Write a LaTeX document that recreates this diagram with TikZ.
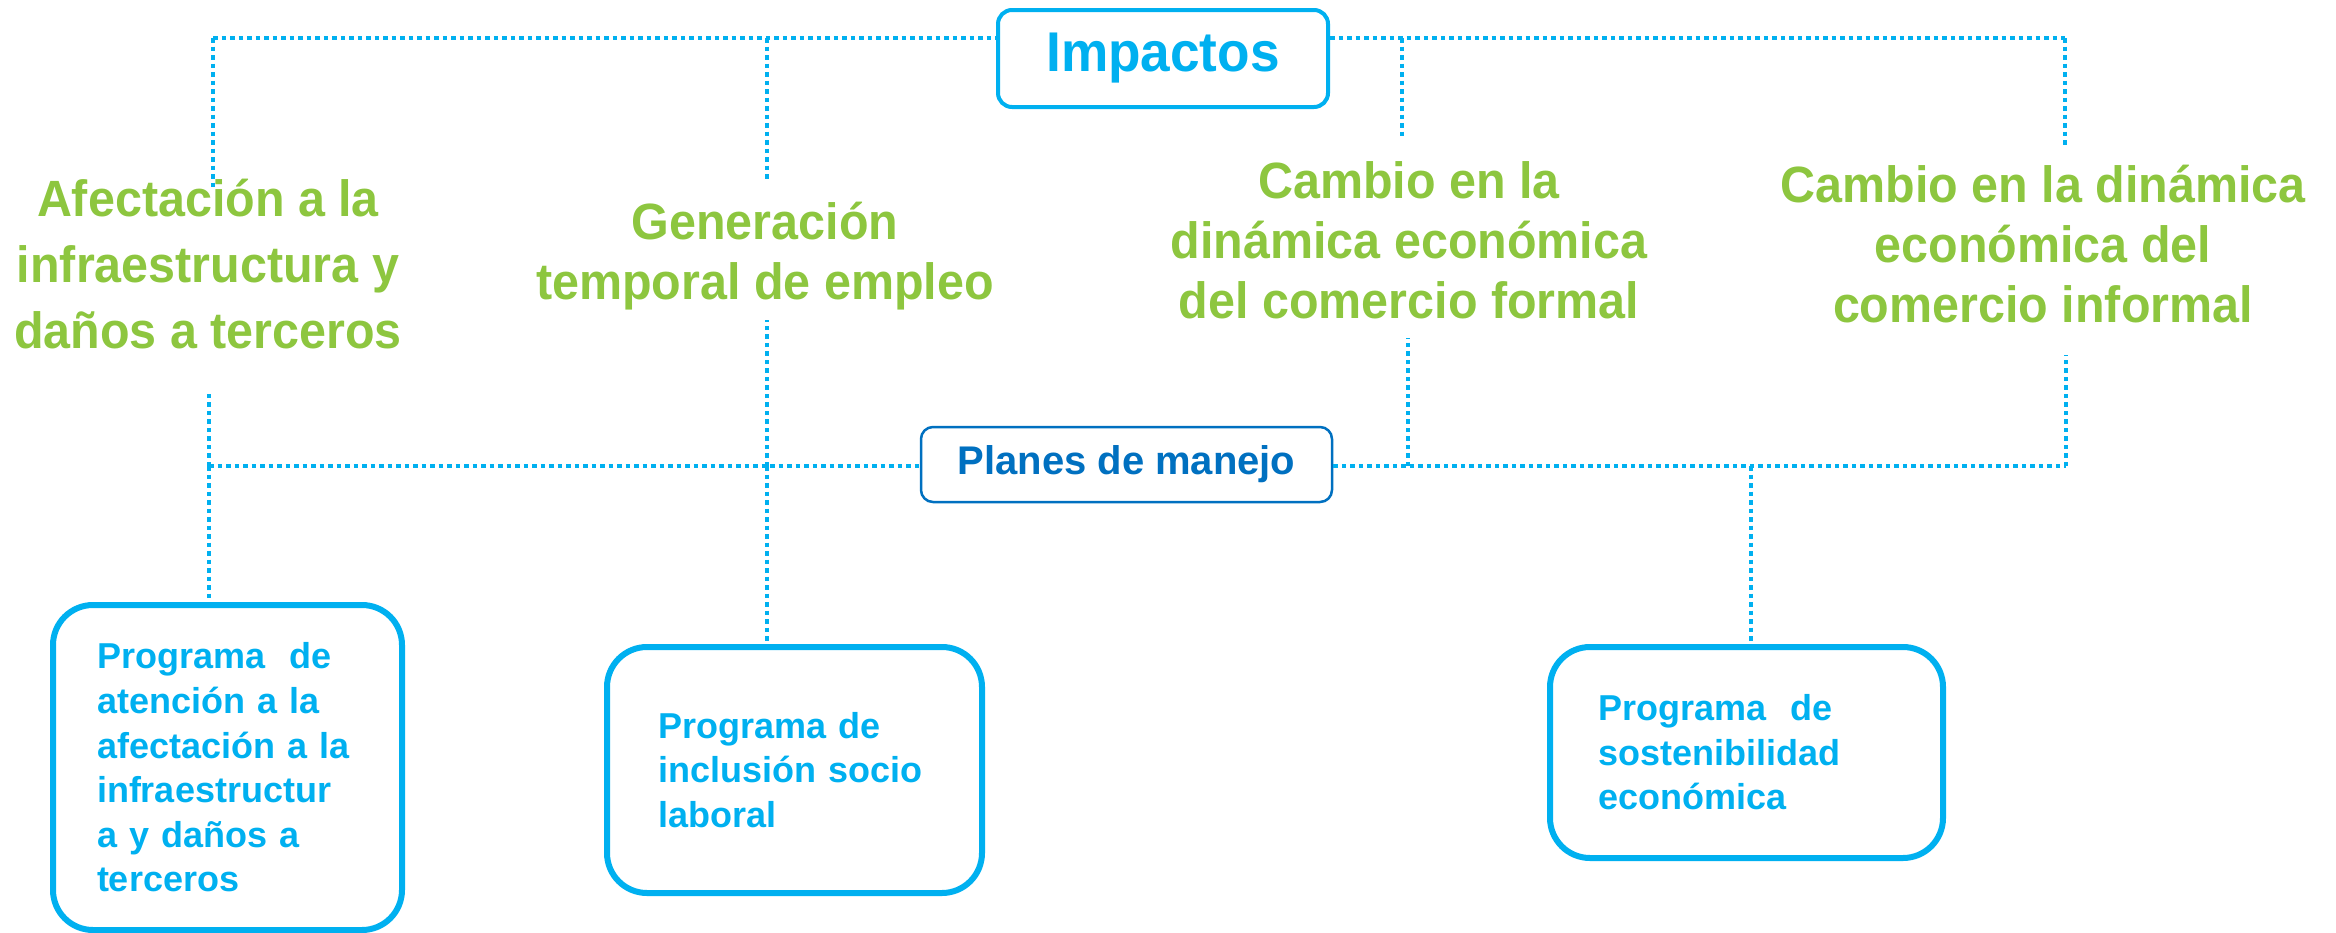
\documentclass[tikz,border=0pt]{standalone}
\usepackage{fontspec}
\setmainfont{Liberation Sans}
\newfontfamily\estrecha[FakeStretch=0.95]{Liberation Sans}
\usepackage{xcolor}
\definecolor{celeste}{HTML}{00B0F0}
\definecolor{azul}{HTML}{0070C0}
\definecolor{verde}{HTML}{8DC63F}
\tikzset{
  punteado/.style={celeste, line width=4.5pt, dash pattern=on 4.5pt off 4pt},
  titulo/.style={draw=celeste, line width=4pt, rounded corners=14pt, text=celeste, fill=white,
    font=\estrecha\bfseries\fontsize{56}{60}\selectfont, minimum width=330pt, minimum height=97pt},
  planes/.style={draw=azul, line width=2.5pt, rounded corners=12pt, text=azul, fill=white,
    font=\bfseries\fontsize{40}{46}\selectfont, minimum width=411pt, minimum height=75pt},
  impacto/.style={text=verde, align=center, inner sep=0pt, font=\estrecha\bfseries\fontsize{51}{60}\selectfont},
  programa/.style={draw=celeste, line width=6pt, rounded corners=40pt, text=celeste, align=left,
    font=\bfseries\fontsize{36}{44.6}\selectfont}
}
\begin{document}
\begin{tikzpicture}[x=1pt, y=-1pt]
\useasboundingbox (0,0) rectangle (2336,932);
% Cajas principales
\node[titulo] (imp) at (1163,58.5) {Impactos};
\node[planes] (pm) at (1126.5,464.5) {Planes de manejo};
% Impactos (texto verde)
\node[impacto, font=\estrecha\bfseries\fontsize{51}{66}\selectfont] (af) at (208,264) {Afectación a la\\infraestructura y\\daños a terceros};
\node[impacto] (ge) at (765,256) {Generación\\temporal de empleo};
\node[impacto] (cf) at (1409,240) {Cambio en la\\dinámica económica\\del comercio formal};
\node[impacto] (ci) at (2043,244) {Cambio en la dinámica\\económica del\\comercio informal};
% Programas
\node[programa, text width=261pt, inner xsep=44pt, minimum height=325pt] (p1) at (227.5,767.5) {Programa~ de\\atención a la\\afectación a la\\infraestructur\\a y daños a\\terceros};
\node[programa, text width=273pt, inner xsep=51pt, minimum height=246pt] (p2) at (794.5,770) {Programa de\\inclusión socio\\laboral};
\node[programa, text width=297pt, inner xsep=48pt, minimum height=211pt] (p3) at (1746.5,752.5) {Programa~ de\\sostenibilidad\\económica};
% Linea superior y ramas
\foreach \n/\x/\yb in {1/213/188, 2/767/182, 3/1402/137, 4/2065/145} {
  \coordinate (s\n) at (\x,38);
  \coordinate (e\n) at (\x,\yb);
  \draw[punteado] (s\n) -- (e\n);
}
\draw[punteado] (s1) -- (s1 -| imp.west);
\draw[punteado] (s4 -| imp.east) -- (s4);
% Linea de planes y ramas hacia arriba
\foreach \n/\x/\yt in {1/209/390, 2/767/320, 3/1408/338, 4/2066/355} {
  \coordinate (m\n) at (\x,466);
  \coordinate (u\n) at (\x,\yt);
  \draw[punteado] (m\n) -- (u\n);
}
\draw[punteado] (m1) -- (m1 -| pm.west);
\draw[punteado] (m4 -| pm.east) -- (m4);
% Ramas hacia los programas
\coordinate (d3) at (1751,466);
\draw[punteado] (m1) -- (m1 |- p1.north);
\draw[punteado] (m2) -- (m2 |- p2.north);
\draw[punteado] (d3) -- (d3 |- p3.north);
\end{tikzpicture}
\end{document}
